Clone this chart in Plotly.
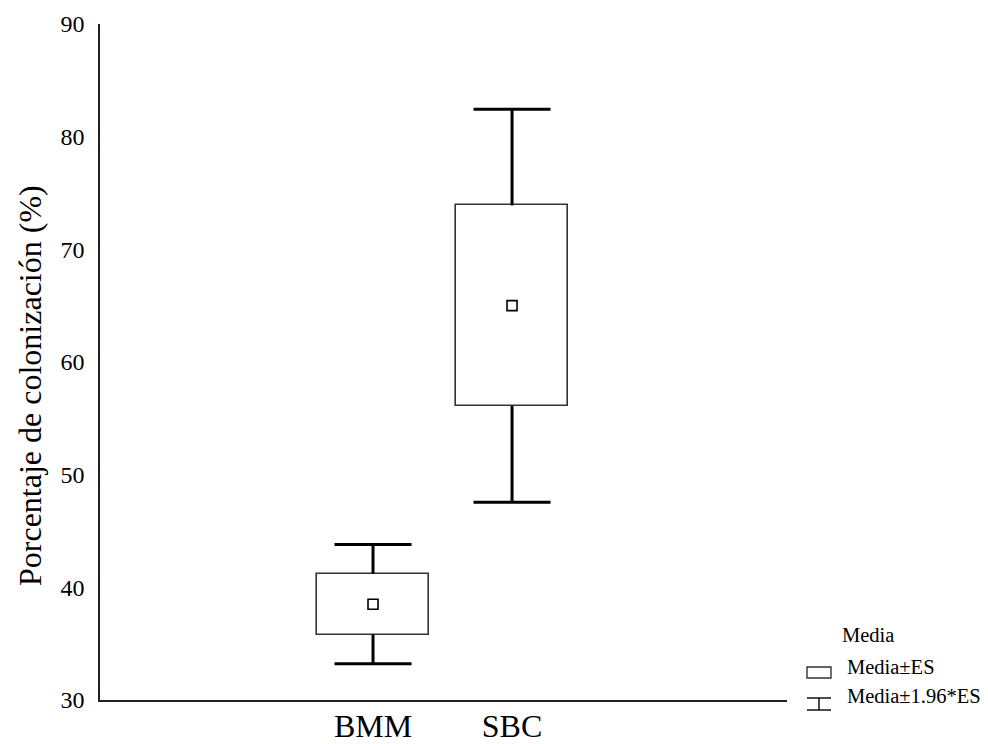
import plotly.graph_objects as go

# ---- data ----
groups = ["BMM", "SBC"]
means = [38.5, 65.0]
se = [2.7, 8.9]          # standard error (box = mean ± SE)
ci_mult = 1.96           # whiskers = mean ± 1.96*SE
yticks = [30, 40, 50, 60, 70, 80, 90]
y_title = "Porcentaje de colonización (%)"
legend_title = "Media"
legend_labels = ["Media±ES", "Media±1.96*ES"]

xpos = list(range(len(groups)))
box_low = [m - s for m, s in zip(means, se)]
box_high = [m + s for m, s in zip(means, se)]
cap_high = [m + ci_mult * s for m, s in zip(means, se)]
cap_low = [m - ci_mult * s for m, s in zip(means, se)]
whisk_ext = [(ci_mult - 1) * s for s in se]
zeros = [0] * len(se)

FONT = "Liberation Serif, Times New Roman, serif"
BOX_W = 0.806
CAP_HALF = 0.277

fig = go.Figure()

# boxes (mean ± SE)
fig.add_trace(go.Bar(
    x=xpos, y=[2 * s for s in se], base=box_low, width=BOX_W,
    marker=dict(color="white", line=dict(color="#333333", width=1.6)),
    showlegend=False, hoverinfo="skip"))

# upper whiskers: point at cap, vertical line back to box, horizontal cap
fig.add_trace(go.Scatter(
    x=xpos, y=cap_high, mode="markers",
    marker=dict(color="rgba(0,0,0,0)", size=1),
    error_y=dict(type="data", symmetric=False, array=zeros, arrayminus=whisk_ext,
                 color="black", thickness=3, width=0),
    error_x=dict(type="constant", value=CAP_HALF, color="black", thickness=3, width=0),
    showlegend=False, hoverinfo="skip"))

# lower whiskers
fig.add_trace(go.Scatter(
    x=xpos, y=cap_low, mode="markers",
    marker=dict(color="rgba(0,0,0,0)", size=1),
    error_y=dict(type="data", symmetric=False, array=whisk_ext, arrayminus=zeros,
                 color="black", thickness=3, width=0),
    error_x=dict(type="constant", value=CAP_HALF, color="black", thickness=3, width=0),
    showlegend=False, hoverinfo="skip"))

# mean markers
fig.add_trace(go.Scatter(
    x=xpos, y=means, mode="markers",
    marker=dict(symbol="square-open", size=10, color="black", line=dict(width=1.6)),
    showlegend=False))

# ---- positions in pixels -> paper coords ----
L, R, T, B = 100, 787, 24, 700
def px(x):
    return (x - L) / (R - L)
def py(y):
    return (B - y) / (B - T)

# y-axis title
fig.add_annotation(xref="paper", yref="paper", x=px(30), y=py(386), text=y_title, textangle=-90,
                   xanchor="center", yanchor="middle",
                   showarrow=False, font=dict(family=FONT, size=32, color="black"))

# ---- custom legend ----
LEG_FS = 20.5
fig.add_annotation(xref="paper", yref="paper", x=px(840), y=py(648), text=legend_title,
                   showarrow=False, xanchor="left", font=dict(family=FONT, size=LEG_FS, color="black"))
fig.add_annotation(xref="paper", yref="paper", x=px(845), y=py(680), text=legend_labels[0],
                   showarrow=False, xanchor="left", font=dict(family=FONT, size=LEG_FS, color="black"))
fig.add_annotation(xref="paper", yref="paper", x=px(845), y=py(709), text=legend_labels[1],
                   showarrow=False, xanchor="left", font=dict(family=FONT, size=LEG_FS, color="black"))
# box symbol
fig.add_shape(type="rect", xref="paper", yref="paper", x0=px(807), x1=px(831), y0=py(678), y1=py(667),
              line=dict(color="#333333", width=1.4), fillcolor="white")
# whisker symbol
for (x0, y0, x1, y1) in [(807, 698, 831, 698), (807, 710, 831, 710), (819, 698, 819, 710)]:
    fig.add_shape(type="line", xref="paper", yref="paper", x0=px(x0), x1=px(x1), y0=py(y0), y1=py(y1),
                  line=dict(color="black", width=1.4))

fig.update_layout(
    width=988, height=744,
    margin=dict(l=L, r=988 - R, t=T, b=744 - B, autoexpand=False),
    paper_bgcolor="white", plot_bgcolor="white",
    font=dict(family=FONT, color="black"),
    bargap=0,
    xaxis=dict(range=[-1.964, 2.978], tickvals=xpos, ticktext=groups, automargin=False,
               showgrid=False, zeroline=False, showline=True, linecolor="#222222", linewidth=1.5,
               ticks="", tickfont=dict(family=FONT, size=32, color="black"), ticklabelstandoff=-3),
    yaxis=dict(range=[30, 90], tickvals=yticks, showgrid=False, zeroline=False, automargin=False,
               showline=True, linecolor="#222222", linewidth=1.5, ticks="",
               tickfont=dict(family=FONT, size=24, color="black"), ticklabelstandoff=9),
)

fig.write_html("out.html", config={"displayModeBar": False},
               post_script="document.body.style.margin='0px';document.body.style.overflow='hidden';")
